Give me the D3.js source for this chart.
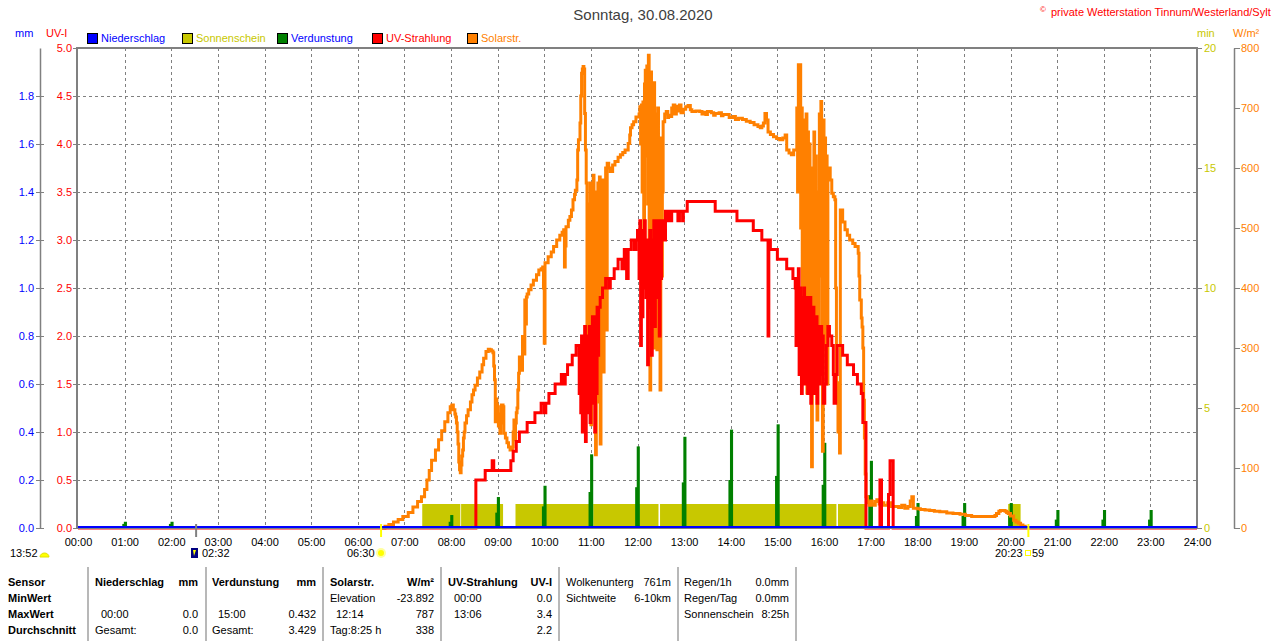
<!DOCTYPE html>
<html>
<head>
<meta charset="utf-8">
<script src="https://cdn.jsdelivr.net/npm/d3@7"></script>
<style>
body { margin: 0; background: #fff; }
svg { display: block; font-family: "Liberation Sans", Arial, sans-serif; font-size: 11px; }
</style>
</head>
<body>
<svg id="chart" width="1280" height="641"></svg>
<script>
// ---- data (time in minutes after midnight) ----
const title = "Sonntag, 30.08.2020"
const copyright = "private Wetterstation Tinnum/Westerland/Sylt"
const hourTicks = d3.range(0, 1441, 60)
const mmTicks = [0, 0.2, 0.4, 0.6, 0.8, 1.0, 1.2, 1.4, 1.6, 1.8]
const uvTicks = [0, 0.5, 1, 1.5, 2, 2.5, 3, 3.5, 4, 4.5, 5]
const minTicks = [0, 5, 10, 15, 20]
const wTicks = [0, 100, 200, 300, 400, 500, 600, 700, 800]

const legendNames = ["Niederschlag", "Sonnenschein", "Verdunstung", "UV-Strahlung", "Solarstr."]

// Niederschlag: 0 mm all day
const rainData = [[0, 0], [1440, 0]]

// Sonnenschein: sunny stretches [start, end], 1 min per minute
const sunStart = [443, 493, 563, 663, 749, 978, 1197]
const sunEnd = [492, 547, 661, 747, 976, 1013, 1213]

// Verdunstung: hourly spikes (mm)
const evapHours = [1, 2, 8, 9, 10, 11, 12, 13, 14, 15, 16, 17, 18, 19, 20, 21, 22, 23]
const evapPeak = [0.026, 0.026, 0.054, 0.129, 0.176, 0.307, 0.34, 0.38, 0.41, 0.432, 0.355, 0.28, 0.104, 0.104, 0.104, 0.075, 0.075, 0.075]
const evapPre = [0.017, 0.017, 0.026, 0.064, 0.09, 0.15, 0.17, 0.19, 0.2, 0.217, 0.18, 0.137, 0.05, 0.05, 0.05, 0.035, 0.035, 0.035]

// UV-Strahlung (UV-I)
const uvData = [
	[0, 0], [511, 0], [512, 0.5], [524, 0.6], [533, 0.7], [535, 0.6], [557, 0.7], [560, 0.8], [564, 0.9], [568, 1.0],
	[578, 1.1], [588, 1.2], [596, 1.3], [600, 1.2], [602, 1.3], [606, 1.4], [614, 1.5], [622, 1.6], [625, 1.5], [627, 1.6],
	[630, 1.7], [636, 1.8], [641, 1.9], [645, 1.4], [646, 1.9], [647, 1.2], [648, 2.0], [649, 1.0], [650, 2.0], [651, 1.6],
	[652, 2.1], [653, 0.9], [654, 1.9], [655, 1.2], [656, 2.0], [657, 1.5], [658, 2.1], [659, 1.1], [660, 1.8], [661, 1.3],
	[662, 2.2], [663, 1.6], [664, 2.0], [665, 1.0], [666, 2.2], [667, 1.4], [668, 2.3], [669, 1.8], [670, 2.3], [672, 2.4],
	[675, 2.5], [679, 2.6], [683, 2.5], [685, 2.6], [690, 2.7], [695, 2.8], [700, 2.7], [703, 2.9], [706, 2.6], [708, 2.9],
	[712, 3.0], [716, 2.9], [718, 3.0], [720, 3.1], [722, 2.6], [723, 3.2], [724, 1.9], [725, 3.0], [726, 2.2], [727, 3.1],
	[728, 2.5], [729, 3.2], [730, 2.8], [731, 2.4], [732, 3.0], [733, 1.7], [734, 2.9], [735, 2.3], [736, 3.1], [737, 2.6],
	[738, 1.8], [739, 3.0], [740, 2.5], [741, 3.2], [742, 2.1], [743, 3.0], [744, 2.7], [745, 3.2], [746, 2.4], [747, 3.1],
	[748, 2.0], [749, 3.2], [750, 2.6], [751, 3.0], [752, 3.2], [754, 3.0], [756, 3.3], [758, 3.2], [760, 3.3], [762, 3.2],
	[764, 3.3], [772, 3.2], [774, 3.3], [778, 3.2], [779, 3.3], [784, 3.4], [820, 3.3], [848, 3.2], [869, 3.1], [880, 3.0],
	[888, 2.0], [889, 3.0], [891, 2.9], [900, 2.8], [912, 2.7], [920, 2.6], [923, 2.5], [924, 1.9], [925, 2.6], [926, 2.0],
	[927, 2.7], [928, 1.6], [929, 2.5], [930, 2.2], [931, 1.4], [932, 2.4], [933, 2.0], [934, 2.5], [935, 1.5], [936, 2.3],
	[937, 1.9], [938, 2.4], [939, 1.4], [940, 2.2], [941, 1.8], [942, 2.4], [943, 1.3], [944, 2.1], [945, 1.7], [946, 2.3],
	[947, 1.4], [948, 2.0], [949, 1.6], [950, 2.2], [951, 1.3], [952, 1.9], [953, 2.1], [954, 1.5], [955, 2.1], [957, 1.6],
	[958, 2.0], [959, 1.3], [961, 1.5], [963, 1.9], [965, 2.1], [967, 2.0], [970, 1.9], [972, 1.6], [973, 1.3], [975, 1.6],
	[977, 1.9], [981, 1.9], [984, 1.8], [990, 1.7], [998, 1.6], [1003, 1.5], [1008, 1.4], [1010, 1.1], [1014, 0],
	[1031, 0], [1032, 0.5], [1034, 0], [1043, 0.35], [1045, 0.7], [1049, 0], [1440, 0]
]

// Solarstrahlung (W/m²)
const solarData = [
	[390, 0], [395, 3], [400, 6], [406, 10], [412, 14], [418, 19], [425, 26], [431, 35], [437, 44], [442, 52],
	[446, 64], [449, 80], [452, 96], [455, 113], [460, 130], [464, 147], [468, 162], [472, 177], [476, 192], [479, 202],
	[481, 205], [483, 197], [485, 190], [486, 185], [487, 175], [488, 160], [489, 140], [490, 110], [491, 97], [492, 92],
	[493, 105], [494, 120], [495, 130], [496, 150], [497, 160], [498, 175], [500, 187], [502, 197], [505, 210], [507, 222],
	[509, 230], [511, 238], [514, 250], [517, 260], [520, 272], [522, 283], [525, 294], [528, 298], [530, 297], [532, 295],
	[534, 292], [535, 270], [536, 247], [537, 177], [538, 215], [539, 205], [540, 202], [541, 170], [542, 190], [543, 158],
	[544, 175], [545, 205], [547, 202], [548, 158], [550, 150], [552, 142], [554, 135], [556, 130], [558, 132], [559, 135],
	[560, 160], [561, 180], [562, 147], [563, 175], [564, 192], [565, 200], [566, 230], [567, 258], [568, 285], [569, 275],
	[570, 268], [571, 263], [572, 319], [573, 313], [574, 290], [575, 380], [576, 340], [577, 385], [578, 390], [580, 397],
	[583, 405], [586, 413], [590, 422], [593, 430], [596, 432], [598, 435], [599, 400], [600, 308], [601, 442], [605, 452],
	[609, 460], [612, 469], [616, 480], [620, 488], [623, 493], [625, 497], [626, 435], [627, 470], [628, 502], [631, 513],
	[633, 519], [635, 530], [637, 547], [639, 556], [640, 563], [642, 580], [643, 630], [644, 647], [646, 675], [647, 720],
	[648, 758], [649, 765], [650, 769], [651, 765], [652, 691], [653, 630], [654, 575], [655, 300], [656, 218], [657, 540],
	[658, 250], [659, 575], [660, 172], [661, 520], [662, 380], [663, 588], [664, 230], [665, 560], [666, 122], [667, 470],
	[668, 300], [669, 575], [670, 210], [671, 585], [672, 140], [673, 500], [674, 350], [675, 580], [676, 260], [677, 560],
	[678, 420], [679, 600], [680, 330], [681, 608], [683, 600], [685, 594], [688, 605], [691, 611], [695, 618], [698, 622],
	[701, 626], [704, 630], [708, 641], [710, 655], [711, 667], [713, 672], [715, 677], [718, 685], [720, 685], [722, 690],
	[723, 702], [724, 640], [725, 705], [726, 560], [727, 710], [728, 480], [729, 740], [730, 763], [731, 620], [732, 770],
	[733, 540], [734, 788], [735, 400], [736, 230], [737, 760], [738, 350], [739, 700], [740, 520], [741, 742], [742, 300],
	[743, 690], [744, 450], [745, 297], [746, 700], [747, 600], [748, 380], [749, 230], [750, 650], [751, 420], [752, 560],
	[753, 677], [755, 690], [757, 694], [759, 684], [760, 688], [762, 686], [764, 700], [765, 690], [766, 705], [768, 690],
	[770, 703], [772, 695], [774, 705], [776, 692], [779, 698], [782, 702], [785, 704], [788, 697], [790, 694], [795, 695],
	[800, 694], [803, 690], [805, 693], [808, 689], [810, 694], [815, 692], [818, 688], [820, 691], [825, 692], [828, 687],
	[830, 689], [835, 689], [838, 684], [843, 686], [846, 681], [850, 683], [855, 681], [860, 678], [865, 676], [870, 672],
	[875, 669], [878, 667], [880, 670], [882, 675], [884, 691], [886, 680], [888, 660], [891, 656], [895, 652], [899, 649],
	[903, 647], [907, 650], [910, 655], [912, 630], [915, 625], [918, 622], [921, 630], [923, 630], [925, 700], [926, 560],
	[927, 772], [928, 650], [929, 772], [930, 500], [931, 700], [932, 380], [933, 680], [934, 300], [935, 640], [936, 450],
	[937, 690], [938, 225], [939, 660], [940, 520], [941, 640], [942, 300], [943, 600], [944, 102], [945, 570], [946, 380],
	[947, 660], [948, 250], [949, 620], [950, 470], [951, 180], [952, 560], [953, 330], [954, 690], [955, 420], [956, 711],
	[957, 560], [958, 128], [959, 680], [960, 300], [961, 650], [962, 480], [963, 620], [964, 240], [965, 600], [966, 600],
	[968, 580], [970, 558], [972, 552], [974, 547], [975, 400], [976, 242], [978, 160], [980, 125], [981, 530], [984, 510],
	[987, 497], [990, 488], [993, 480], [997, 474], [1000, 469], [1004, 458], [1005, 420], [1006, 380], [1008, 350], [1009, 335],
	[1010, 300], [1011, 213], [1012, 150], [1013, 90], [1014, 52], [1016, 42], [1018, 38], [1020, 45], [1022, 40], [1024, 38],
	[1026, 44], [1028, 47], [1031, 40], [1034, 42], [1037, 38], [1042, 42], [1046, 36], [1051, 36], [1056, 34], [1060, 38],
	[1064, 33], [1068, 36], [1071, 45], [1073, 52], [1075, 33], [1080, 32], [1084, 31], [1090, 30], [1096, 29], [1102, 28],
	[1109, 27], [1118, 25], [1126, 24], [1135, 23], [1142, 21], [1150, 19], [1165, 19], [1178, 19], [1180, 21], [1182, 24],
	[1185, 28], [1187, 29], [1190, 29], [1193, 28], [1195, 26], [1197, 24], [1200, 20], [1204, 13], [1207, 10], [1210, 8],
	[1213, 5], [1216, 3], [1219, 0]
]

// astronomical marks below the axis
const markTimes = [152, 390, 1223]
const markLabels = ["02:32", "06:30", "20:23"]

// summary table
const tableRowLabels = ["Sensor", "MinWert", "MaxWert", "Durchschnitt"]
const tableCells = [
	[["Niederschlag", "mm"], ["", ""], ["00:00", "0.0"], ["Gesamt:", "0.0"]],
	[["Verdunstung", "mm"], ["", ""], ["15:00", "0.432"], ["Gesamt:", "3.429"]],
	[["Solarstr.", "W/m²"], ["Elevation", "-23.892"], ["12:14", "787"], ["Tag:8:25 h", "338"]],
	[["UV-Strahlung", "UV-I"], ["00:00", "0.0"], ["13:06", "3.4"], ["", "2.2"]],
	[["Wolkenunterg", "761m"], ["Sichtweite", "6-10km"], ["", ""], ["", ""]],
	[["Regen/1h", "0.0mm"], ["Regen/Tag", "0.0mm"], ["Sonnenschein", "8:25h"], ["", ""]]
]

// ---- layout ----
const colors = {
	rain: "#0000ff", sun: "#c8c800", evap: "#008000", uv: "#ff0000", solar: "#ff8000",
	grid: "#808080", frame: "#808080"
}
const legendTextColors = [colors.rain, colors.sun, colors.rain, colors.uv, colors.solar]
const legendBoxColors = [colors.rain, colors.sun, colors.evap, colors.uv, colors.solar]

const plot = { left: 77, right: 1197, top: 48, bottom: 528 }

const svg = d3.select("#chart")

const x = d3.scaleLinear().domain([0, 1440]).range([78, 1197])
const yMM = d3.scaleLinear().domain([0, 2]).range([plot.bottom, plot.top])
const yUV = d3.scaleLinear().domain([0, 5]).range([plot.bottom, plot.top])
const yMin = d3.scaleLinear().domain([0, 20]).range([plot.bottom, plot.top])
const yW = d3.scaleLinear().domain([0, 800]).range([plot.bottom, plot.top])

// titles
svg.append("text")
	.attr("x", 643).attr("y", 20)
	.attr("text-anchor", "middle")
	.style("font-size", "15px").attr("fill", "#404040")
	.text(title)
svg.append("text")
	.attr("x", 1040).attr("y", 12)
	.style("font-size", "8px").attr("fill", colors.uv)
	.text("©")
svg.append("text")
	.attr("x", 1051).attr("y", 16)
	.attr("fill", colors.uv)
	.text(copyright)

// unit labels
svg.append("text").attr("x", 15).attr("y", 37).attr("fill", colors.rain).text("mm")
svg.append("text").attr("x", 46).attr("y", 37).attr("fill", colors.uv).text("UV-I")
svg.append("text").attr("x", 1197).attr("y", 37).attr("fill", colors.sun).text("min")
svg.append("text").attr("x", 1233).attr("y", 37).attr("fill", colors.solar).text("W/m²")

// legend
const legend = svg.append("g")
legendNames.forEach((name, i) => {
	const lx = 87 + i * 95
	legend.append("rect")
		.attr("x", lx + 0.5).attr("y", 33.5).attr("width", 10).attr("height", 10)
		.attr("fill", legendBoxColors[i]).attr("stroke", "#000")
	legend.append("text")
		.attr("x", lx + 14).attr("y", 42)
		.attr("fill", legendTextColors[i])
		.text(name)
})

// grid
const grid = svg.append("g")
	.attr("stroke", colors.grid).attr("stroke-dasharray", "3,3").attr("stroke-width", 1)
grid.selectAll("line.v").data(hourTicks.slice(1, -1)).enter().append("line")
	.attr("x1", d => Math.round(x(d)) + 0.5).attr("x2", d => Math.round(x(d)) + 0.5)
	.attr("y1", plot.top).attr("y2", plot.bottom)
grid.selectAll("line.h").data(uvTicks.slice(1, -1)).enter().append("line")
	.attr("x1", plot.left).attr("x2", plot.right)
	.attr("y1", d => Math.round(yUV(d)) + 0.5).attr("y2", d => Math.round(yUV(d)) + 0.5)

// sunshine blocks
svg.append("g").selectAll("rect").data(sunStart).enter().append("rect")
	.attr("x", (d, i) => x(d))
	.attr("width", (d, i) => x(sunEnd[i]) - x(d))
	.attr("y", yMin(1))
	.attr("height", yMin(0) - yMin(1))
	.attr("fill", colors.sun)

// evaporation spikes
const evap = svg.append("g").attr("fill", colors.evap)
evap.selectAll("rect.pre").data(evapHours).enter().append("rect")
	.attr("x", d => x(d * 60 - 3))
	.attr("width", d => x(d * 60 + 1) - x(d * 60 - 3))
	.attr("y", (d, i) => yMM(evapPre[i]))
	.attr("height", (d, i) => yMM(0) - yMM(evapPre[i]))
evap.selectAll("rect.peak").data(evapHours).enter().append("rect")
	.attr("x", d => x(d * 60 - 1))
	.attr("width", d => x(d * 60 + 3) - x(d * 60 - 1))
	.attr("y", (d, i) => yMM(evapPeak[i]))
	.attr("height", (d, i) => yMM(0) - yMM(evapPeak[i]))

// solar radiation
svg.append("path")
	.datum(solarData)
	.attr("fill", "none").attr("stroke", colors.solar).attr("stroke-width", 3)
	.attr("d", d3.line().curve(d3.curveStepAfter).x(d => x(d[0])).y(d => yW(d[1])))

// UV radiation
svg.append("path")
	.datum(uvData)
	.attr("fill", "none").attr("stroke", colors.uv).attr("stroke-width", 3)
	.attr("d", d3.line().curve(d3.curveStepAfter).x(d => x(d[0])).y(d => yUV(d[1])))

// frame
svg.append("rect")
	.attr("x", plot.left).attr("y", plot.top)
	.attr("width", plot.right - plot.left).attr("height", plot.bottom - plot.top)
	.attr("fill", "none").attr("stroke", colors.frame).attr("stroke-width", 2)

// rain line
svg.append("path")
	.datum(rainData)
	.attr("fill", "none").attr("stroke", colors.rain).attr("stroke-width", 2)
	.attr("d", d3.line().x(d => x(d[0])).y(d => yMM(d[1]) - 1))

// axes
function styleAxis(g, color) {
	g.selectAll("line").attr("stroke", colors.frame)
	g.selectAll("path.domain").attr("stroke", colors.frame).attr("stroke-width", 1.5)
	g.selectAll("text").attr("fill", color)
		.style("font-family", "\"Liberation Sans\", Arial, sans-serif").style("font-size", "11px")
}

svg.append("g")
	.attr("transform", "translate(40,0)")
	.call(d3.axisLeft(yMM).tickValues(mmTicks).tickFormat(d3.format(".1f")).tickSizeInner(4).tickSizeOuter(0).tickPadding(2))
	.call(g => g.selectAll(".tick line").attr("x1", 4))
	.call(g => styleAxis(g, colors.rain))

svg.append("g")
	.attr("transform", "translate(77,0)")
	.call(d3.axisLeft(yUV).tickValues(uvTicks).tickFormat(d3.format(".1f")).tickSizeInner(4).tickSizeOuter(0).tickPadding(1))
	.call(g => g.select(".domain").remove())
	.call(g => styleAxis(g, colors.uv))

svg.append("g")
	.attr("transform", "translate(1197,0)")
	.call(d3.axisRight(yMin).tickValues(minTicks).tickSizeInner(5).tickSizeOuter(0).tickPadding(2))
	.call(g => g.select(".domain").remove())
	.call(g => styleAxis(g, colors.sun))

svg.append("g")
	.attr("transform", "translate(1234,0)")
	.call(d3.axisRight(yW).tickValues(wTicks).tickSizeInner(6).tickSizeOuter(0).tickPadding(1))
	.call(g => styleAxis(g, colors.solar))

svg.append("g")
	.attr("transform", `translate(0,${plot.bottom})`)
	.call(d3.axisBottom(x).tickValues(hourTicks).tickSizeInner(0).tickSizeOuter(0).tickPadding(10)
		.tickFormat(d => d3.format("02d")(d / 60) + ":00"))
	.call(g => g.select(".domain").remove())
	.call(g => styleAxis(g, "#000"))

// astronomical marks
const marks = svg.append("g")
marks.append("line")
	.attr("x1", x(markTimes[0])).attr("x2", x(markTimes[0]))
	.attr("y1", 524).attr("y2", 537).attr("stroke", "#808080").attr("stroke-width", 2)
marks.append("line")
	.attr("x1", x(markTimes[1])).attr("x2", x(markTimes[1]))
	.attr("y1", 524).attr("y2", 537).attr("stroke", "#ffff00").attr("stroke-width", 2)
marks.append("line")
	.attr("x1", x(markTimes[2])).attr("x2", x(markTimes[2]))
	.attr("y1", 524).attr("y2", 537).attr("stroke", "#ffff00").attr("stroke-width", 2)

svg.append("text").attr("x", 10).attr("y", 557).text("13:52")
svg.append("path").attr("d", "M40,557 A4.5,4 0 0 1 49,557 Z").attr("fill", "#ffff00").attr("stroke", "#e0e000")
svg.append("rect").attr("x", 191).attr("y", 548).attr("width", 7).attr("height", 10).attr("fill", "#000080")
svg.append("path").attr("d", "M193,550 L196,550 L195,553 L194,556 Z").attr("fill", "#ffff00")
svg.append("text").attr("x", 202).attr("y", 557).text(markLabels[0])
svg.append("text").attr("x", 347).attr("y", 557).text(markLabels[1])
svg.append("circle").attr("cx", 381).attr("cy", 553).attr("r", 5).attr("fill", "#ffffa0")
svg.append("circle").attr("cx", 381).attr("cy", 553).attr("r", 3).attr("fill", "#ffff00")
svg.append("text").attr("x", 995).attr("y", 557).text(markLabels[2])
svg.append("rect").attr("x", 1025.5).attr("y", 550.5).attr("width", 5).attr("height", 5).attr("fill", "none").attr("stroke", "#ffff00")
svg.append("text").attr("x", 1032).attr("y", 557).text("59")

// table
const colLeft = [95, 212, 330, 448, 566, 684]
const colRight = [198, 316, 434, 552, 671, 789]
const rowY = [586, 602, 618, 634]
const sepX = [88, 206, 323, 441, 559, 678, 796]
const table = svg.append("g")
table.selectAll("line").data(sepX).enter().append("line")
	.attr("x1", d => d).attr("x2", d => d)
	.attr("y1", 567).attr("y2", 641)
	.attr("stroke", "#a0a0a0").attr("stroke-width", 1.5)
tableRowLabels.forEach((t, r) => {
	table.append("text").attr("x", 8).attr("y", rowY[r]).style("font-weight", "bold").text(t)
})
tableCells.forEach((col, c) => {
	col.forEach((cell, r) => {
		const bold = r === 0 && c < 4
		const indent = (cell[0].match(/^\d\d:\d\d$/)) ? 6 : 0
		table.append("text")
			.attr("x", colLeft[c] + indent).attr("y", rowY[r])
			.style("font-weight", bold ? "bold" : "normal")
			.text(cell[0])
		table.append("text")
			.attr("x", colRight[c]).attr("y", rowY[r])
			.attr("text-anchor", "end")
			.style("font-weight", bold ? "bold" : "normal")
			.text(cell[1])
	})
})
</script>
</body>
</html>
